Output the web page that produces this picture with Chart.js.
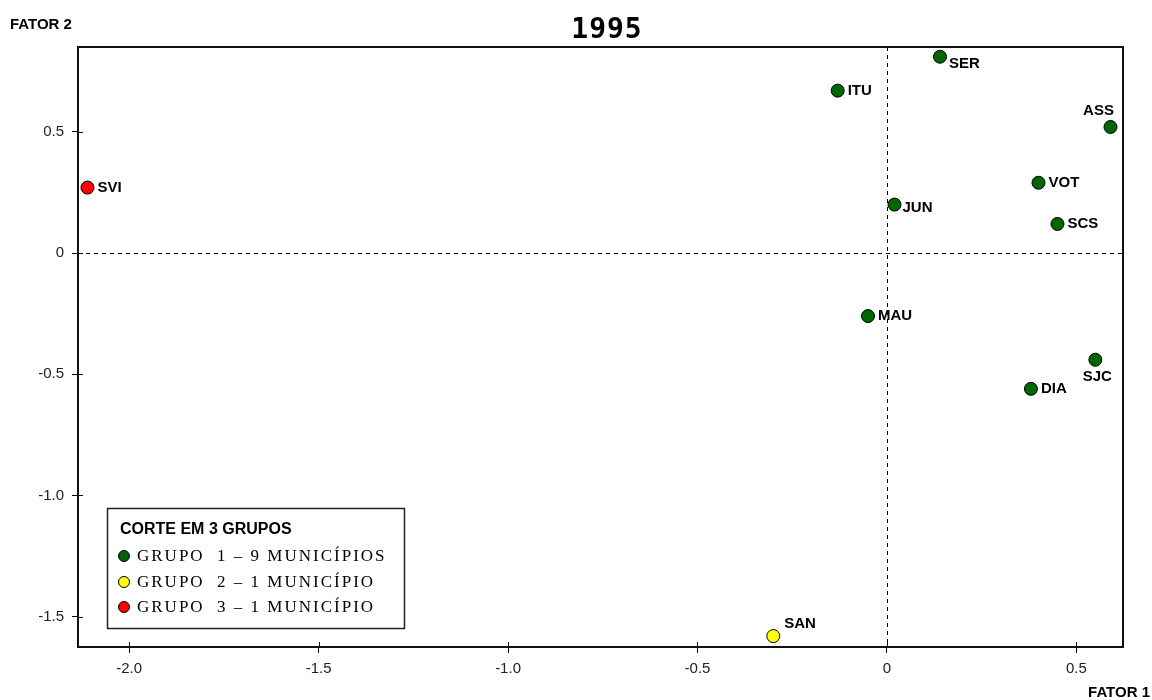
<!DOCTYPE html>
<html>
<head>
<meta charset="utf-8">
<title>1995</title>
<script src="https://cdn.jsdelivr.net/npm/chart.js@4.4.1/dist/chart.umd.min.js"></script>
<style>
  html, body { margin: 0; padding: 0; background: #fff; }
  #wrap { width: 1152px; height: 700px; }
</style>
</head>
<body>
<div id="wrap"><canvas id="myChart" width="1152" height="700"></canvas></div>
<script>
// municipios e coordenadas nos dois fatores
const municipios = ['SVI', 'ITU', 'SER', 'ASS', 'VOT', 'JUN', 'SCS', 'MAU', 'SJC', 'DIA', 'SAN']
const fator1 = [-2.11, -0.13, 0.14, 0.59, 0.40, 0.02, 0.45, -0.05, 0.55, 0.38, -0.30]
const fator2 = [0.27, 0.67, 0.81, 0.52, 0.29, 0.20, 0.12, -0.26, -0.44, -0.56, -1.58]
const grupo = [3, 1, 1, 1, 1, 1, 1, 1, 1, 1, 2]

const grupos = [1, 2, 3]
const grupoTexto = ['GRUPO  1 \u2013 9 MUNICÍPIOS', 'GRUPO  2 \u2013 1 MUNICÍPIO', 'GRUPO  3 \u2013 1 MUNICÍPIO']
const xTicks = [-2.0, -1.5, -1.0, -0.5, 0, 0.5]
const yTicks = [-1.5, -1.0, -0.5, 0, 0.5]

const cores = { 1: '#006600', 2: '#ffff00', 3: '#ff0000' }

// where each name sits relative to its marker: [dx, dy, align]
const rotulos = {
    SER: [9, 7, 'left'],
    ASS: [-12, -16, 'center'],
    SJC: [2, 17, 'center'],
    SAN: [11, -12, 'left'],
    JUN: [8, 3, 'left']
}

function fmt(v){
    if (Math.abs(v) < 1e-9) return '0'
    return v.toFixed(1)
}

let datasets = grupos.map(g => {
    let pts = []
    municipios.forEach((m, i) => {
        if (grupo[i] == g) pts.push({ x: fator1[i], y: fator2[i], nome: m })
    })
    return {
        label: grupoTexto[g - 1],
        data: pts,
        backgroundColor: cores[g],
        borderColor: '#000',
        borderWidth: 1,
        pointRadius: 6.5,
        pointHoverRadius: 6.5,
        clip: false
    }
})

const desenho = {
    id: 'desenho',
    beforeDatasetsDraw(chart){
        const ctx = chart.ctx
        const a = chart.chartArea
        const x0 = chart.scales.x.getPixelForValue(0)
        const y0 = chart.scales.y.getPixelForValue(0)
        ctx.save()
        ctx.strokeStyle = '#000'
        ctx.lineWidth = 1
        ctx.setLineDash([4, 4])
        ctx.beginPath()
        ctx.moveTo(Math.round(x0) + 0.5, a.top)
        ctx.lineTo(Math.round(x0) + 0.5, a.bottom)
        ctx.moveTo(a.left, Math.round(y0) + 0.5)
        ctx.lineTo(a.right, Math.round(y0) + 0.5)
        ctx.stroke()
        ctx.restore()
    },
    afterDraw(chart){
        const ctx = chart.ctx
        const a = chart.chartArea
        ctx.save()

        // frame
        ctx.strokeStyle = '#111'
        ctx.lineWidth = 2
        ctx.strokeRect(a.left, a.top, a.right - a.left, a.bottom - a.top)

        // inner part of the tick marks
        ctx.lineWidth = 1
        ctx.beginPath()
        for (let t of xTicks){
            let px = Math.round(chart.scales.x.getPixelForValue(t)) + 0.5
            ctx.moveTo(px, a.bottom)
            ctx.lineTo(px, a.bottom - 5)
        }
        for (let t of yTicks){
            let py = Math.round(chart.scales.y.getPixelForValue(t)) + 0.5
            ctx.moveTo(a.left, py)
            ctx.lineTo(a.left + 5, py)
        }
        ctx.stroke()

        // point names
        ctx.fillStyle = '#000'
        ctx.font = 'bold 15px "Liberation Sans", Arial, sans-serif'
        ctx.textBaseline = 'middle'
        chart.data.datasets.forEach((ds, di) => {
            const meta = chart.getDatasetMeta(di)
            meta.data.forEach((el, j) => {
                const nome = ds.data[j].nome
                const r = rotulos[nome] || [10, 0, 'left']
                ctx.textAlign = r[2]
                ctx.fillText(nome, el.x + r[0], el.y + r[1])
            })
        })

        // title and axis names
        ctx.textAlign = 'center'
        ctx.textBaseline = 'alphabetic'
        ctx.font = 'bold 28px "DejaVu Sans Mono", monospace'
        ctx.letterSpacing = '1px'
        ctx.fillText('1995', 607, 38)
        ctx.letterSpacing = '0px'

        ctx.font = 'bold 15px "Liberation Sans", Arial, sans-serif'
        ctx.textAlign = 'left'
        ctx.fillText('FATOR 2', 10, 29)
        ctx.textAlign = 'right'
        ctx.fillText('FATOR 1', 1150, 697)

        // legend box
        const lx = 107, ly = 508, lw = 297, lh = 120
        ctx.fillStyle = '#fff'
        ctx.fillRect(lx, ly, lw, lh)
        ctx.strokeStyle = '#222'
        ctx.lineWidth = 1.5
        ctx.strokeRect(lx + 0.5, ly + 0.5, lw, lh)

        ctx.fillStyle = '#000'
        ctx.textAlign = 'left'
        ctx.font = 'bold 16px "Liberation Sans", Arial, sans-serif'
        ctx.fillText('CORTE EM 3 GRUPOS', 120, 534)

        const itemY = [556, 582, 607]
        ctx.font = '17px "Liberation Serif", "Times New Roman", serif'
        ctx.letterSpacing = '2px'
        ctx.textBaseline = 'middle'
        grupos.forEach((g, i) => {
            ctx.beginPath()
            ctx.arc(124, itemY[i], 5.5, 0, Math.PI * 2)
            ctx.fillStyle = cores[g]
            ctx.fill()
            ctx.strokeStyle = '#000'
            ctx.lineWidth = 1
            ctx.stroke()
            ctx.fillStyle = '#000'
            ctx.fillText(grupoTexto[i], 137, itemY[i] + 1)
        })
        ctx.letterSpacing = '0px'
        ctx.restore()
    }
}

let ctx = document.getElementById('myChart').getContext('2d')
let myChart = new Chart(ctx, {
    type: 'scatter',
    data: { datasets: datasets },
    options: {
        responsive: false,
        animation: false,
        events: [],
        layout: { padding: { top: 47, right: 29, left: 0, bottom: 0 } },
        plugins: {
            legend: { display: false },
            title: { display: false },
            tooltip: { enabled: false }
        },
        scales: {
            x: {
                type: 'linear',
                min: -2.135,
                max: 0.623,
                afterFit(scale){ scale.height = 53 },
                afterBuildTicks(scale){ scale.ticks = xTicks.map(v => ({ value: v })) },
                ticks: {
                    callback: v => fmt(v),
                    color: '#222',
                    padding: 7,
                    maxRotation: 0,
                    font: { family: '"Liberation Sans", Arial, sans-serif', size: 15 }
                },
                grid: { drawOnChartArea: false, drawTicks: true, tickLength: 6, color: '#000', lineWidth: 1 },
                border: { display: true, color: '#111', width: 2 }
            },
            y: {
                type: 'linear',
                min: -1.625,
                max: 0.85,
                afterFit(scale){ scale.width = 78 },
                afterBuildTicks(scale){ scale.ticks = yTicks.map(v => ({ value: v })) },
                ticks: {
                    callback: v => fmt(v),
                    color: '#222',
                    padding: 8,
                    font: { family: '"Liberation Sans", Arial, sans-serif', size: 15 }
                },
                grid: { drawOnChartArea: false, drawTicks: true, tickLength: 6, color: '#000', lineWidth: 1 },
                border: { display: true, color: '#111', width: 2 }
            }
        }
    },
    plugins: [desenho]
})
</script>
</body>
</html>
